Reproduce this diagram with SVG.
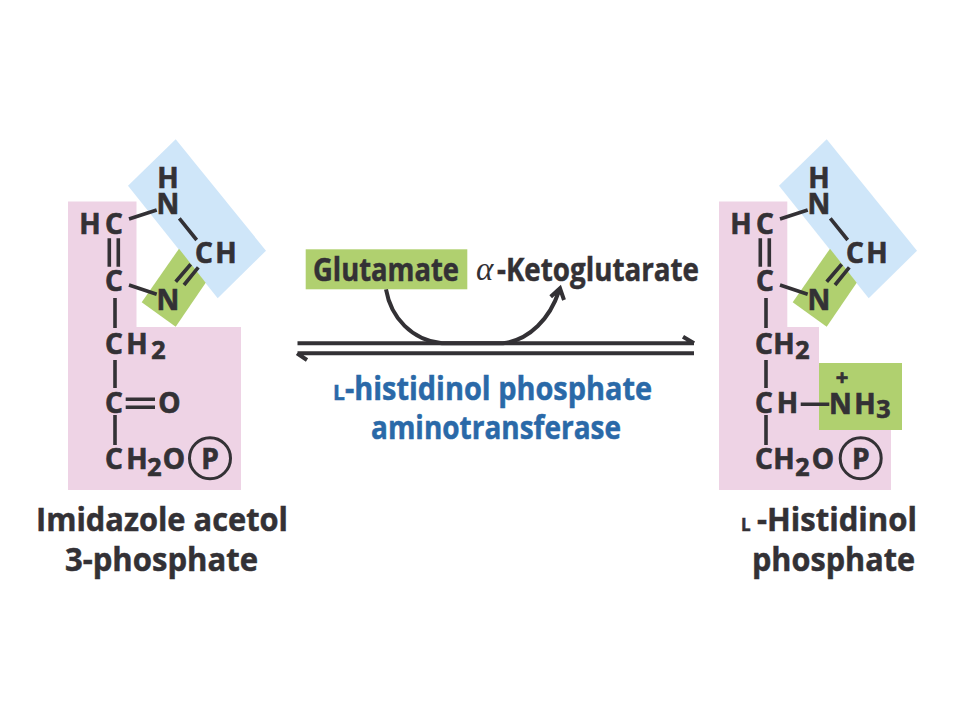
<svg xmlns="http://www.w3.org/2000/svg" width="960" height="720" viewBox="0 0 960 720">
<defs>
<style>
text{font-family:"Open Sans","Noto Sans","Liberation Sans",sans-serif;font-weight:700;fill:#333135;stroke:#333135;stroke-width:.5}
.a{font-size:28px;stroke-width:.7}
.m{text-anchor:middle}
.s{font-size:25px;stroke-width:.7}
.n{font-size:32px}
.b{fill:#2a69a8;stroke:#2a69a8}
.bond{stroke:#333135;stroke-width:3.6;fill:none}
.pink{fill:#eed3e5}.blue{fill:#cfe6f9}.green{fill:#b0d06f}
.arrow{stroke:#333135;stroke-width:4;fill:none}
.thin{stroke:#333135;stroke-width:3;fill:none}
</style>
<g id="ring">
<polygon class="blue" points="175.7,139.3 266,250.7 217.7,298.3 128,185.7"/>
<polygon class="green" points="179,248.7 205.7,282.7 175.7,326.7 141.7,302.3"/>
<path class="bond" d="M129 219L156.7 210M179.3 218.3L196.7 240M175.7 281.7L190.7 264.3M184 285L198.3 267.3M129 285L156.7 294.3M109.3 238.3V266.7M118.3 238.3V266.7M115 298V328"/>
<text class="a m" x="168" y="188">H</text>
<text class="a m" x="168" y="214">N</text>
<text class="a m" x="90" y="233.5">H</text>
<text class="a m" x="114" y="233.5">C</text>
<text class="a m" x="204" y="262.5">C</text>
<text class="a m" x="226" y="262.5">H</text>
<text class="a m" x="114" y="290.5">C</text>
<text class="a m" x="168" y="310">N</text>
</g>
</defs>
<g id="imidazole-acetol-phosphate">
<polygon class="pink" points="68,201.5 136.5,201.5 136.5,327 241,327 241,490 68,490"/>
<use href="#ring"/>
<path class="bond" d="M115 360V388M125.7 399.3H155M125.7 407.3H155M115 415V445"/>
<text class="a m" x="114" y="353.5">C</text>
<text class="a m" x="137" y="353.5">H</text>
<text class="s m" x="158.5" y="358.5">2</text>
<text class="a m" x="114" y="412.5">C</text>
<text class="a m" x="169.5" y="412.5">O</text>
<text class="a m" x="114" y="468.5">C</text>
<text class="a m" x="137" y="468.5">H</text>
<text class="s m" x="154.5" y="475.5">2</text>
<text class="a m" x="174" y="468.5">O</text>
<circle class="thin" cx="210" cy="458.3" r="20.5"/>
<text class="a m" x="210" y="468.5">P</text>
<text class="n" x="36" y="530.5" textLength="252" lengthAdjust="spacingAndGlyphs">Imidazole acetol</text>
<text class="n" x="65" y="570.5" textLength="193" lengthAdjust="spacingAndGlyphs">3-phosphate</text>
</g>
<g id="histidinol-phosphate">
<polygon class="pink" points="719,201.5 787.3,201.5 787.3,327 819,327 819,430 891,430 891,490 719,490"/>
<rect class="green" x="819" y="363" width="83" height="67"/>
<use href="#ring" x="651"/>
<path class="bond" d="M766 360V388M800.7 404.3H829.3M766 415V445"/>
<text class="a m" x="764" y="353.5">C</text>
<text class="a m" x="784" y="353.5">H</text>
<text class="s m" x="802.5" y="358.5">2</text>
<text class="a m" x="764" y="412.5">C</text>
<text class="a m" x="787.5" y="412.5">H</text>
<text class="a m" x="840.5" y="413.5">N</text>
<text class="a m" x="865" y="413.5">H</text>
<text class="s m" x="883.5" y="417.5">3</text>
<text class="m" x="842" y="385" font-size="22" style="stroke-width:.7">+</text>
<text class="a m" x="764" y="468.5">C</text>
<text class="a m" x="784" y="468.5">H</text>
<text class="s m" x="802.5" y="475.5">2</text>
<text class="a m" x="823" y="468.5">O</text>
<circle class="thin" cx="860.7" cy="458.3" r="20.5"/>
<text class="a m" x="860.7" y="468.5">P</text>
<text x="741" y="530.5" font-size="17">L</text>
<text class="n" x="757" y="530.5" textLength="160" lengthAdjust="spacingAndGlyphs">-Histidinol</text>
<text class="n" x="752" y="570.5" textLength="163" lengthAdjust="spacingAndGlyphs">phosphate</text>
</g>
<g id="glutamate">
<rect class="green" x="305.7" y="249.3" width="161.6" height="40"/>
<text class="n" x="313" y="280.5" textLength="146" lengthAdjust="spacingAndGlyphs">Glutamate</text>
</g>
<g id="ketoglutarate">
<text x="476" y="280" font-size="33" style="font-family:'Liberation Serif',serif;font-style:italic;font-weight:400;stroke-width:0">α</text>
<text class="n" x="497" y="280.5" textLength="202" lengthAdjust="spacingAndGlyphs">-Ketoglutarate</text>
</g>
<g id="enzyme">
<text class="b" x="333" y="399.5" font-size="21">L</text>
<text class="n b" x="345" y="399.5" textLength="307" lengthAdjust="spacingAndGlyphs">-histidinol phosphate</text>
<text class="n b" x="371" y="439" textLength="250" lengthAdjust="spacingAndGlyphs">aminotransferase</text>
</g>
<g id="connectors">
<path class="arrow" d="M297.5 343.3H694M683 336.7L694 343.3M694 353.3H297.5M307 360L297 353.3"/>
<path class="arrow" d="M386 289.3C391 318 412 340 442 343.3H503C530 340 550 318 559 291M550.7 296.7L560 288.3L564 300"/>
</g>
</svg>
